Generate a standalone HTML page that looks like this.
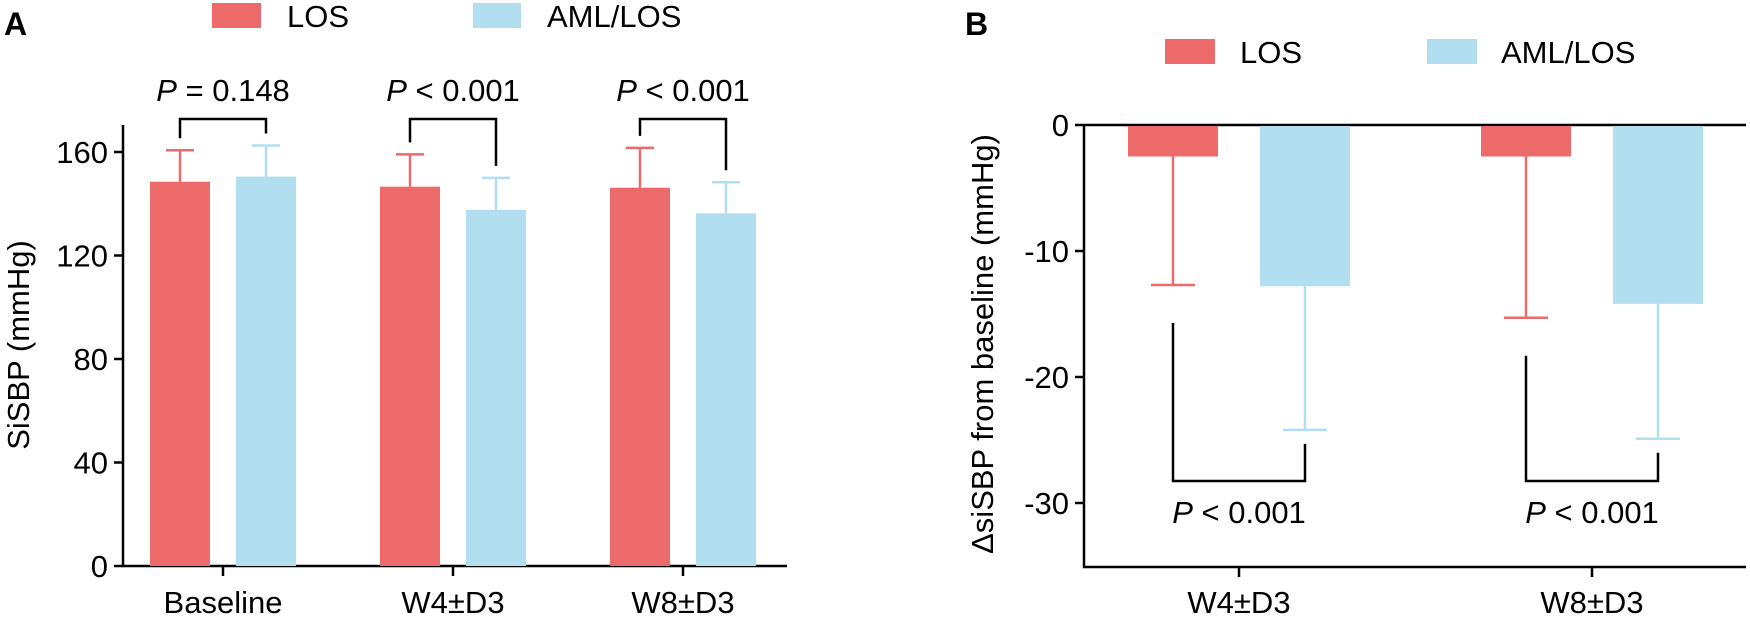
<!DOCTYPE html>
<html><head><meta charset="utf-8"><style>
html,body{margin:0;padding:0;background:#fff;}
svg{display:block;font-family:"Liberation Sans",Arial,sans-serif;}
</style></head><body>
<svg id="chart" width="1750" height="617" viewBox="0 0 1750 617" xmlns="http://www.w3.org/2000/svg">
<text x="4" y="35" font-size="32" font-weight="bold">A</text>
<rect x="212" y="3" width="49" height="25" fill="#EC6A6A"/>
<text x="287" y="27" font-size="31">LOS</text>
<rect x="473" y="3" width="48" height="25" fill="#B1DFF0"/>
<text x="547" y="27" font-size="31">AML/LOS</text>
<text transform="translate(29,345) rotate(-90)" text-anchor="middle" font-size="31">SiSBP (mmHg)</text>
<g id="ga"></g>
<text x="965" y="35" font-size="32" font-weight="bold">B</text>
<rect x="1165" y="39" width="50" height="25" fill="#EC6A6A"/>
<text x="1240" y="63" font-size="31">LOS</text>
<rect x="1427" y="39" width="50" height="25" fill="#B1DFF0"/>
<text x="1501" y="63" font-size="31">AML/LOS</text>
<text transform="translate(993,344) rotate(-90)" text-anchor="middle" font-size="31">ΔsiSBP from baseline (mmHg)</text>
<g id="gb"></g>
</svg>
<script>
const catsA = ["Baseline", "W4±D3", "W8±D3"];
const losA = [148.5, 146.6, 146.2];
const losErrA = [160.7, 159.1, 161.6];
const amlA = [150.5, 137.7, 136.3];
const amlErrA = [162.5, 150.0, 148.3];
const pA = ["= 0.148", "< 0.001", "< 0.001"];
const ticksA = [0, 40, 80, 120, 160];

const catsB = ["W4±D3", "W8±D3"];
const losB = [-2.5, -2.5];
const losErrB = [-12.7, -15.3];
const amlB = [-12.8, -14.2];
const amlErrB = [-24.2, -24.9];
const pB = ["< 0.001", "< 0.001"];
const ticksB = [0, -10, -20, -30];

const NS = "http://www.w3.org/2000/svg";
const RED = "#EC6A6A", BLUE = "#B1DFF0";
function mk(parent, tag, attrs, text) {
  const e = document.createElementNS(NS, tag);
  for (const k in attrs) e.setAttribute(k, attrs[k]);
  if (text !== undefined) e.textContent = text;
  parent.appendChild(e);
  return e;
}
function pText(g, x, y, s, anchorMid) {
  const t = mk(g, "text", {x: x, y: y, "font-size": 31, "text-anchor": "middle"});
  
  
  const a = mk(t, "tspan", {"font-style": "italic"}, "P");
  const b = mk(t, "tspan", {}, " " + s);
  return t;
}

// Panel A
(function(){
  const g = document.getElementById("ga");
  const x0 = 123, xEnd = 787, yTop = 125;
  const y = v => 566 - v * (414 / 160);
  const cx = i => 223 + i * 230;
  const bw = 60, off = 43;
  const ax = mk(g, "path", {d: `M${x0} ${yTop} V566 H${xEnd}`, stroke: "#000", "stroke-width": 2.5, fill: "none"});
  
  
  ticksA.forEach(t => {
    const tk = mk(g, "line", {x1: x0 - 9, x2: x0, y1: y(t), y2: y(t), stroke: "#000", "stroke-width": 2.5});
    
    
    const lb = mk(g, "text", {x: x0 - 15, y: y(t) + 11, "font-size": 31, "text-anchor": "end"}, String(t));
    
    
  });
  catsA.forEach((c, i) => {
    const tk = mk(g, "line", {x1: cx(i), x2: cx(i), y1: 566, y2: 576, stroke: "#000", "stroke-width": 2.5});
    
    
    const lb = mk(g, "text", {x: cx(i), y: 613, "font-size": 31, "text-anchor": "middle"}, c);
    
    
    [[losA, losErrA, RED, -off, 'bar-los'], [amlA, amlErrA, BLUE, off, 'bar-aml-los']].forEach(([vals, errs, col, o, nm]) => {
      const bx = cx(i) + o;
      const e = mk(g, "path", {d: `M${bx} ${y(vals[i])} V${y(errs[i])} M${bx - 14} ${y(errs[i])} H${bx + 14}`, stroke: col, "stroke-width": 2.5, fill: "none"});
      
      
      const r = mk(g, "rect", {x: bx - bw / 2, y: y(vals[i]), width: bw, height: 566 - y(vals[i]), fill: col});
      
      
    });
    const lx = cx(i) - off, rx = cx(i) + off, top = 119;
    const bk = mk(g, "path", {d: `M${lx} ${y(losErrA[i]) - 12} V${top} H${rx} V${y(amlErrA[i]) - 12}`, stroke: "#000", "stroke-width": 2.5, fill: "none"});
    
    
    pText(g, cx(i), 101, pA[i]);
  });
})();

// Panel B
(function(){
  const g = document.getElementById("gb");
  const x0 = 1084, xEnd = 1746, yBot = 567;
  const y = v => 125 - v * 12.6;
  const cx = i => 1239 + i * 353;
  const bw = 90, off = 66;
  const ax = mk(g, "path", {d: `M${x0} 125 V${yBot} H${xEnd} M${x0} 125 H${xEnd}`, stroke: "#000", "stroke-width": 2.5, fill: "none"});
  
  
  ticksB.forEach(t => {
    const tk = mk(g, "line", {x1: x0 - 9, x2: x0, y1: y(t), y2: y(t), stroke: "#000", "stroke-width": 2.5});
    
    
    const lb = mk(g, "text", {x: x0 - 15, y: y(t) + 11, "font-size": 31, "text-anchor": "end"}, String(t));
    
    
  });
  catsB.forEach((c, i) => {
    const tk = mk(g, "line", {x1: cx(i), x2: cx(i), y1: yBot, y2: yBot + 10, stroke: "#000", "stroke-width": 2.5});
    
    
    const lb = mk(g, "text", {x: cx(i), y: 613, "font-size": 31, "text-anchor": "middle"}, c);
    
    
    [[losB, losErrB, RED, -off, 'bar-los'], [amlB, amlErrB, BLUE, off, 'bar-aml-los']].forEach(([vals, errs, col, o, nm]) => {
      const bx = cx(i) + o;
      const e = mk(g, "path", {d: `M${bx} ${y(vals[i])} V${y(errs[i])} M${bx - 22} ${y(errs[i])} H${bx + 22}`, stroke: col, "stroke-width": 2.5, fill: "none"});
      
      
      const r = mk(g, "rect", {x: bx - bw / 2, y: 126, width: bw, height: y(vals[i]) - 126, fill: col});
      
      
    });
    const lx = cx(i) - off, rx = cx(i) + off, bot = 481;
    const bk = mk(g, "path", {d: `M${lx} ${y(losErrB[i]) + 38} V${bot} H${rx} V${y(amlErrB[i]) + 14}`, stroke: "#000", "stroke-width": 2.5, fill: "none"});
    
    
    pText(g, cx(i), 523, pB[i]);
  });
})();
</script>
</body></html>
